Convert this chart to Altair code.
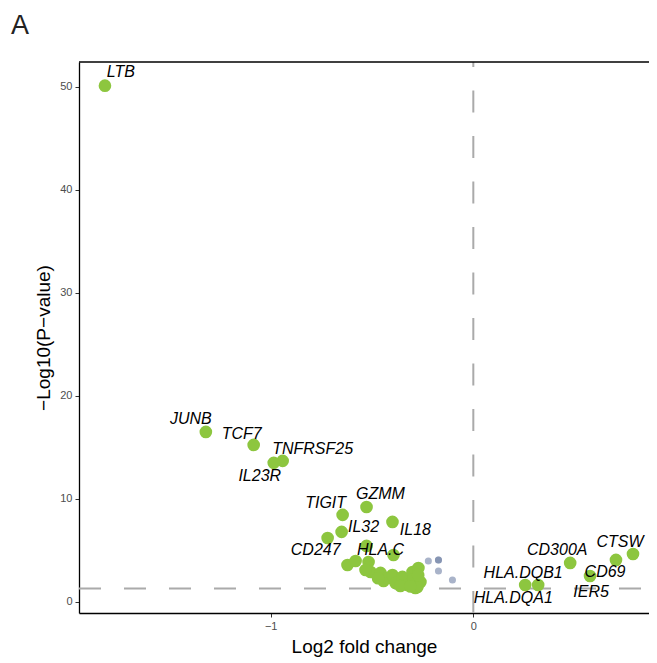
import altair as alt
import pandas as pd

# ---- data ----
sig_genes = ["LTB", "JUNB", "TCF7", "TNFRSF25", "IL23R", "TIGIT", "GZMM", "IL32",
             "CD247", "IL18", "HLA.C", "", "", "", "", "", "", "", "", "", "", "",
             "", "", "", "", "", "", "", "", "", "", "", "",
             "HLA.DQA1", "HLA.DQB1", "CD300A", "IER5", "CD69", "CTSW"]
sig_logfc = [-1.818, -1.320, -1.084, -0.941, -0.985, -0.645, -0.527, -0.650,
             -0.719, -0.399, -0.527, -0.394, -0.621, -0.581, -0.517, -0.507, -0.458, -0.443,
             -0.424, -0.399, -0.384, -0.350, -0.325, -0.300, -0.296, -0.286, -0.271, -0.261,
             -0.276, -0.532, -0.470, -0.360, -0.310, -0.272,
             0.256, 0.320, 0.478, 0.576, 0.704, 0.788]
sig_logp = [50.10, 16.50, 15.24, 13.69, 13.50, 8.45, 9.22, 6.80,
            6.21, 7.77, 5.44, 4.56, 3.59, 3.98, 3.88, 2.91, 2.82, 2.04,
            2.33, 2.62, 1.84, 2.43, 1.65, 2.91, 2.23, 1.36, 3.30, 1.94,
            1.45, 3.10, 2.30, 1.55, 1.50, 2.60,
            1.65, 1.65, 3.79, 2.52, 4.08, 4.66]

ns_logfc = [-0.222, -0.172, -0.172, -0.172, -0.103]
ns_logp = [3.98, 4.08, 4.08, 3.01, 2.14]

label_genes = ["LTB", "JUNB", "TCF7", "TNFRSF25", "IL23R", "TIGIT", "GZMM", "IL32",
               "CD247", "IL18", "HLA.C", "CD300A", "CTSW", "CD69", "IER5",
               "HLA.DQB1", "HLA.DQA1"]
label_logfc = [-1.739, -1.394, -1.143, -0.793, -1.054, -0.729, -0.458, -0.542,
               -0.778, -0.286, -0.458, 0.414, 0.724, 0.650, 0.581, 0.246, 0.197]
label_logp = [51.4, 17.8, 16.3, 14.8, 12.2, 9.6, 10.5, 7.3,
              5.0, 7.0, 5.0, 5.0, 5.8, 2.9, 1.0, 2.8, 0.4]

x_ticks = [-1, 0]
y_ticks = [0, 10, 20, 30, 40, 50]
p_threshold = 1.3
fc_threshold = 0
panel_tag = "A"

sig = pd.DataFrame({"gene": sig_genes, "logfc": sig_logfc, "logp": sig_logp})
ns = pd.DataFrame({"logfc": ns_logfc, "logp": ns_logp})
labels = pd.DataFrame({"gene": label_genes, "logfc": label_logfc, "logp": label_logp})

FONT = "Liberation Sans"
W, H = 570, 551
xscale = alt.Scale(domain=[-1.946, 0.867], nice=False, zero=False)
yscale = alt.Scale(domain=[-1.07, 52.4], nice=False, zero=False)

xenc = alt.X("logfc:Q", scale=xscale, title="Log2 fold change",
             axis=alt.Axis(values=x_ticks, labelExpr="datum.value < 0 ? '−' + abs(datum.value) : datum.value",
                           titlePadding=6))
yenc = alt.Y("logp:Q", scale=yscale, title="−Log10(P−value)",
             axis=alt.Axis(values=y_ticks, titlePadding=6))

DASH_COLOR = "#AAAAAA"
vline = alt.Chart(pd.DataFrame({"v": [fc_threshold]})).mark_rule(
    color=DASH_COLOR, strokeWidth=2, strokeDash=[22, 23.5]
).encode(x=alt.X("v:Q", scale=xscale), y=alt.value(H), y2=alt.value(0))
hline = alt.Chart(pd.DataFrame({"h": [p_threshold]})).mark_rule(
    color=DASH_COLOR, strokeWidth=2, strokeDash=[22, 23]
).encode(y=alt.Y("h:Q", scale=yscale), x=alt.value(0), x2=alt.value(W))

ns_pts = alt.Chart(ns).mark_circle(size=50, color="#7080A5", opacity=0.6).encode(x=xenc, y=yenc)
sig_pts = alt.Chart(sig).mark_circle(size=160, color="#8DC63F", opacity=1).encode(x=xenc, y=yenc)

text = alt.Chart(labels).mark_text(
    font=FONT, fontSize=16, fontStyle="italic", color="black", align="center", baseline="middle"
).encode(x=alt.X("logfc:Q", scale=xscale), y=alt.Y("logp:Q", scale=yscale), text="gene:N")

top_border = alt.Chart(pd.DataFrame({"k": [0]})).mark_rule(color="black", strokeWidth=1.3).encode(
    x=alt.value(0), x2=alt.value(W), y=alt.value(0)
)

tag = alt.Chart(pd.DataFrame({"t": [panel_tag]})).mark_text(
    font=FONT, fontSize=27, color="#222222", align="left", baseline="alphabetic"
).encode(x=alt.value(-68), y=alt.value(-28), text="t:N")

chart = alt.layer(vline, hline, ns_pts, sig_pts, text, top_border, tag).properties(
    width=W, height=H,
    padding={"left": 71, "top": 54, "right": 0, "bottom": 50},
    autosize=alt.AutoSizeParams(type="none"),
).configure_view(stroke=None, clip=False).configure_axis(
    grid=False, domainColor="black", domainWidth=1.3, tickColor="#333333", tickSize=4,
    tickWidth=1, labelColor="#4D4D4D", labelFontSize=11, labelFont=FONT,
    titleFont=FONT, titleFontSize=19, titleFontWeight="normal", titleColor="black",
    labelPadding=3,
)

chart.save("out.html", embed_options={"renderer": "svg", "actions": False})
